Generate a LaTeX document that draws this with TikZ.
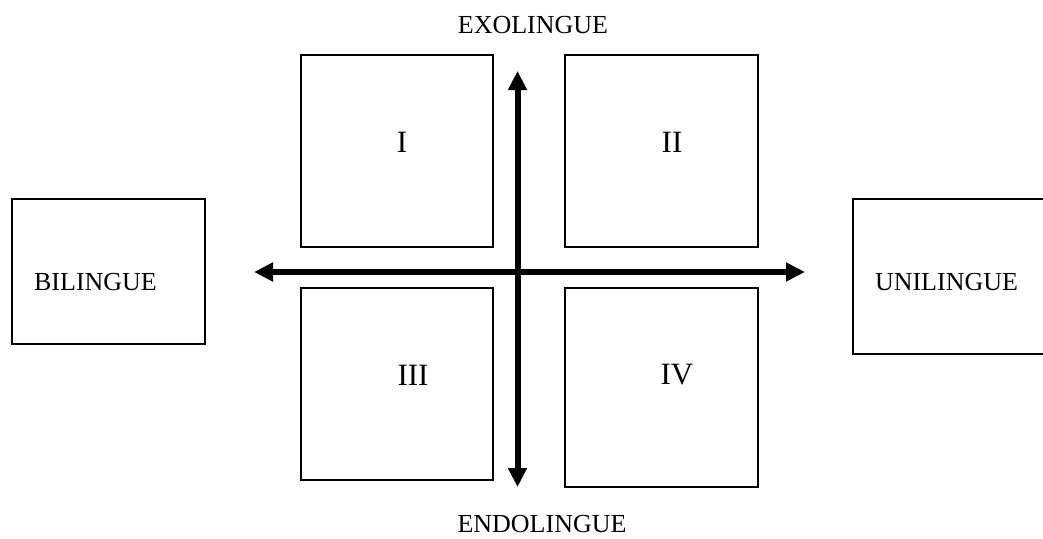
\documentclass[tikz,border=0pt]{standalone}
\usepackage{fontspec}
\setmainfont{Liberation Serif}
\usetikzlibrary{arrows.meta}
\begin{document}
\begin{tikzpicture}[x=1pt,y=-1pt,
  quad/.style={draw=black,line width=1.3pt,fill=none,rectangle},
  lbl/.style={anchor=base,inner sep=0pt,font=\fontsize{26}{30}\selectfont},
  num/.style={anchor=base,inner sep=0pt,font=\fontsize{31}{36}\selectfont},
  axis/.style={line width=6pt,-{Triangle[length=19pt,width=18pt]}}]
\useasboundingbox (0,0) rectangle (1043,538);
\fill[white] (0,0) rectangle (1043,538);
% quadrant boxes
\draw[quad] (301,55) rectangle (493,247) coordinate (q1);
\draw[quad] (565,55) rectangle (758,247) coordinate (q2);
\draw[quad] (301,288) rectangle (493,480) coordinate (q3);
\draw[quad] (565,288) rectangle (758,487) coordinate (q4);
% side boxes
\draw[quad] (12,199) rectangle (205,344) coordinate (bbox);
\draw[quad] (1050,199) -- (853,199) -- (853,354) -- (1050,354);
% labels
\node[num] (nI) at (402,152) {I};
\node[num] (nII) at (672,152) {II};
\node[num] (nIII) at (413,385) {III};
\node[num] (nIV) at (677,384) {IV};
\node[lbl] (bil) at (95.5,290) {BILINGUE};
\node[lbl] (uni) at (946.5,290.5) {UNILINGUE};
\node[lbl] (exo) at (533,33) {EXOLINGUE};
\node[lbl] (endo) at (542,532.5) {ENDOLINGUE};
% axes
\coordinate (c) at (517.5,272);
\coordinate (top) at (517.5,71);
\coordinate (bot) at (517.5,487);
\coordinate (lft) at (254,272);
\coordinate (rgt) at (805,272);
\draw[axis] (c) -- (top);
\draw[axis] (c) -- (bot);
\draw[axis] (c) -- (lft);
\draw[axis] (c) -- (rgt);
\end{tikzpicture}
\end{document}
